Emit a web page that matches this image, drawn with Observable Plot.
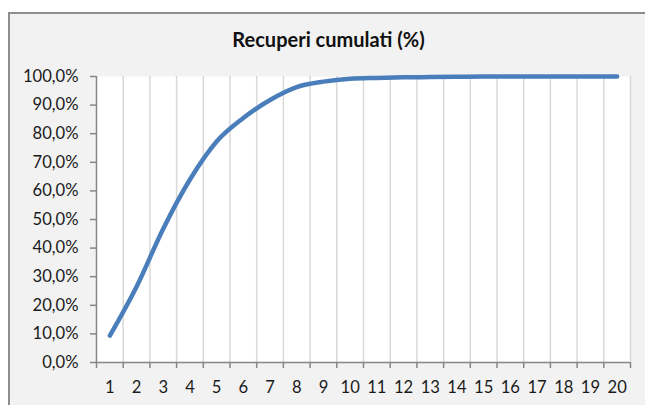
<!DOCTYPE html>
<html><head><meta charset="utf-8">
<script src="https://cdn.jsdelivr.net/npm/d3@7"></script>
<script src="https://cdn.jsdelivr.net/npm/@observablehq/plot@0.6"></script>
<style>
html,body{margin:0;padding:0;background:#fff;}
#wrap{position:relative;width:645px;height:405px;overflow:hidden;font-family:Lato,sans-serif;}
#frame{position:absolute;left:8px;top:12px;width:660px;height:420px;background:#f2f2f2;border:2px solid #8e8e8e;box-sizing:border-box;}
#title{position:absolute;left:0;width:657px;top:29px;text-align:center;font-weight:bold;font-size:20px;line-height:20px;color:#111;}
#chart{position:absolute;left:0;top:0;}
</style>
</head><body>
<div id="wrap"><div id="frame"></div><div id="title">Recuperi cumulati (%)</div><div id="chart"></div></div>
<script>
const title = "Recuperi cumulati (%)";
const categories = [1,2,3,4,5,6,7,8,9,10,11,12,13,14,15,16,17,18,19,20];
const values = [9.4, 26.5, 46.8, 64.0, 77.3, 85.5, 91.8, 96.3, 98.2, 99.2, 99.5, 99.7, 99.8, 99.9, 100, 100, 100, 100, 100, 100];
const yTicks = [0,10,20,30,40,50,60,70,80,90,100];

const edges = [categories[0] - 0.5, ...categories.map(c => c + 0.5)];
const gridEdges = categories.map(c => c + 0.5);
const fmt = d => d.toFixed(1).replace(".", ",") + "%";
const axisColor = "#868686";

const chart = Plot.plot({
  width: 645, height: 405,
  marginLeft: 96, marginRight: 15, marginTop: 76, marginBottom: 43,
  style: {background: "transparent", fontFamily: "Lato, sans-serif", fontSize: "16.6px", color: "#1a1a1a"},
  x: {domain: [edges[0], edges[edges.length - 1]]},
  y: {domain: [0, 100]},
  marks: [
    Plot.frame({fill: "white", stroke: null}),
    Plot.ruleX(gridEdges, {stroke: "#d9d9d9", strokeWidth: 1.5}),
    Plot.ruleY([0], {stroke: axisColor, strokeWidth: 1.5}),
    Plot.ruleX([edges[0]], {stroke: axisColor, strokeWidth: 1.5}),
    Plot.axisY({ticks: yTicks, tickFormat: fmt, tickSize: 6, tickPadding: 12, stroke: axisColor, strokeWidth: 1.5, color: "#1a1a1a", fontSize: 16.6}),
    Plot.axisX({ticks: edges, tickSize: 6, tickFormat: () => "", stroke: axisColor, strokeWidth: 1.5}),
    Plot.axisX({ticks: categories, tickSize: 0, tickPadding: 19, tickFormat: d => String(d), color: "#1a1a1a", fontSize: 16.6}),
    Plot.line(values, {x: categories, y: values, curve: "monotone-x", stroke: "#4a7ebb", strokeWidth: 4.5, strokeLinecap: "round", strokeLinejoin: "round"})
  ]
});
document.getElementById("chart").appendChild(chart);
</script>
</body></html>
